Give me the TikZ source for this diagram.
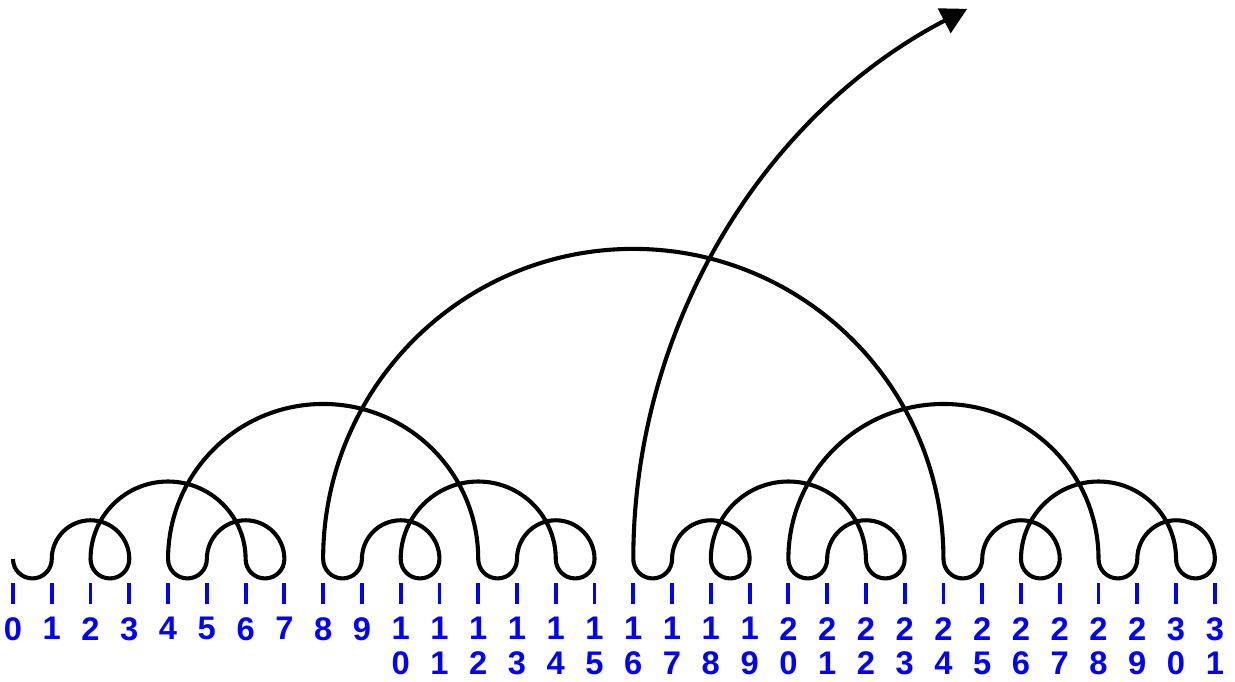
\documentclass[tikz,border=0pt]{standalone}
\usepackage{fontspec}
\setmainfont{Liberation Sans}
\usetikzlibrary{arrows.meta}

\begin{document}
\begin{tikzpicture}[->,>={Triangle[length=0.67cm,width=0.7cm]},
	curve/.style={draw=black,line width=3pt,line join=round},
	tickbar/.style={rectangle,fill=blue,inner sep=0pt,minimum width=0.1cm,minimum height=0.54cm},
	num/.style={text=blue,font=\fontsize{24}{25.3}\selectfont\bfseries,align=center,inner sep=0pt,anchor=north}]

	\useasboundingbox (-0.335,-3.147) rectangle (31.52,14.42);

	\foreach \i in {0,...,31}{
		\pgfmathtruncatemacro\tens{int(\i/10)}
		\pgfmathtruncatemacro\ones{mod(\i,10)}
		\ifnum\i<10 \edef\lbl{\i}\else \edef\lbl{\tens\noexpand\\\ones}\fi
		\coordinate (p\i) at (\i,0);
		\node (t\i) at (\i,-0.89) [tickbar] {};
		\node (n\i) at (\i,-1.5) [num] {\lbl};
	}

	\draw[curve] (p0)
		arc[start angle=180,end angle=360,radius=0.5]
		arc[start angle=180,end angle=0,radius=1]
		arc[start angle=0,end angle=-180,radius=0.5]
		arc[start angle=180,end angle=0,radius=2]
		arc[start angle=180,end angle=360,radius=0.5]
		arc[start angle=0,end angle=180,radius=1]
		arc[start angle=0,end angle=-180,radius=0.5]
		arc[start angle=180,end angle=0,radius=4]
		arc[start angle=180,end angle=360,radius=0.5]
		arc[start angle=180,end angle=0,radius=1]
		arc[start angle=0,end angle=-180,radius=0.5]
		arc[start angle=0,end angle=180,radius=2]
		arc[start angle=180,end angle=360,radius=0.5]
		arc[start angle=0,end angle=180,radius=1]
		arc[start angle=0,end angle=-180,radius=0.5]
		arc[start angle=180,end angle=0,radius=8]
		arc[start angle=180,end angle=360,radius=0.5]
		arc[start angle=180,end angle=0,radius=1]
		arc[start angle=0,end angle=-180,radius=0.5]
		arc[start angle=180,end angle=0,radius=2]
		arc[start angle=180,end angle=360,radius=0.5]
		arc[start angle=0,end angle=180,radius=1]
		arc[start angle=0,end angle=-180,radius=0.5]
		arc[start angle=0,end angle=180,radius=4]
		arc[start angle=180,end angle=360,radius=0.5]
		arc[start angle=180,end angle=0,radius=1]
		arc[start angle=0,end angle=-180,radius=0.5]
		arc[start angle=0,end angle=180,radius=2]
		arc[start angle=180,end angle=360,radius=0.5]
		arc[start angle=0,end angle=180,radius=1]
		arc[start angle=0,end angle=-180,radius=0.5]
		arc[start angle=180,end angle=117.5,radius=16];

\end{tikzpicture}
\end{document}
